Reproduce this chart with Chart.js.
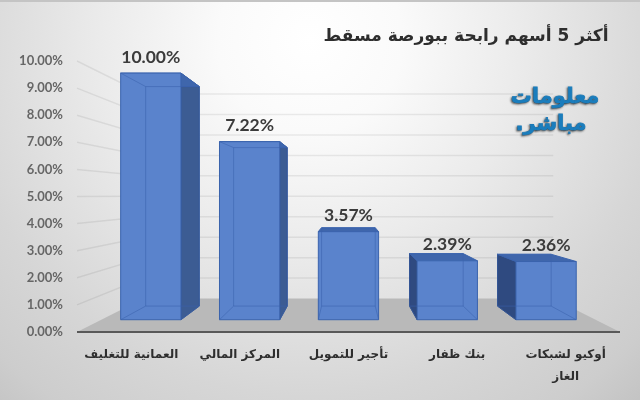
<!DOCTYPE html>
<html>
<head>
<meta charset="utf-8">
<script src="https://cdn.jsdelivr.net/npm/chart.js@4"></script>
<style>
html, body { margin: 0; padding: 0; }
body { width: 640px; height: 400px; overflow: hidden; }
#wrap {
    width: 640px; height: 400px; position: relative;
    background:
        linear-gradient(#c4c4c4, #c4c4c4) top / 100% 2px no-repeat,
        radial-gradient(circle 420px at 310px 40px, #ffffff 0%, #fafafa 22%, #ebebeb 50%, #d6d6d6 85%, #cdcdcd 105%, #b8b8b8 130%);
}
</style>
</head>
<body>
<div id="wrap"><canvas id="myChart" width="640" height="400"></canvas></div>
<script>
var categories = ["العمانية للتغليف", "المركز المالي", "تأجير للتمويل", "بنك ظفار", ["أوكيو لشبكات", "الغاز"]];
var values = [10.00, 7.22, 3.57, 2.39, 2.36];
var tickValues = [0, 1, 2, 3, 4, 5, 6, 7, 8, 9, 10];
var title = "أكثر 5 أسهم رابحة ببورصة مسقط";
var logoLines = ["معلومات", "مباشر."];

// perspective of the excel 3d chart
var vx = 348, vy = 195.6;
var kWall = 0.7546, kFront = 0.91, kBack = 0.81;

function px(x, k) { return vx + k * (x - vx); }
function py(y, k) { return vy + k * (y - vy); }

function poly(ctx, pts, fill, stroke) {
    ctx.beginPath();
    ctx.moveTo(pts[0][0], pts[0][1]);
    for (var i = 1; i < pts.length; i++) ctx.lineTo(pts[i][0], pts[i][1]);
    ctx.closePath();
    if (fill) { ctx.fillStyle = fill; ctx.fill(); }
    if (stroke) { ctx.strokeStyle = stroke; ctx.lineWidth = 1; ctx.stroke(); }
}

var walls = {
    id: "walls",
    beforeDatasetsDraw: function (chart) {
        var ctx = chart.ctx, a = chart.chartArea, y = chart.scales.y;
        ctx.save();
        // vloer
        poly(ctx, [[a.left, a.bottom], [a.right, a.bottom], [px(a.right, kWall), py(a.bottom, kWall)], [px(a.left, kWall), py(a.bottom, kWall)]], "#b9b9b9");
        // grid lines, side wall and back wall
        tickValues.forEach(function (t) {
            if (t === 0) return;
            var yy = y.getPixelForValue(t);
            ctx.beginPath();
            ctx.moveTo(a.left, yy);
            ctx.lineTo(px(a.left, kWall), py(yy, kWall));
            ctx.lineTo(px(a.right, kWall), py(yy, kWall));
            ctx.strokeStyle = "rgba(0,0,0,0.07)";
            ctx.lineWidth = 1.5;
            ctx.stroke();
        });
        // voorrand
        ctx.beginPath();
        ctx.moveTo(a.left, a.bottom);
        ctx.lineTo(a.right, a.bottom);
        ctx.strokeStyle = "#595959";
        ctx.lineWidth = 2;
        ctx.stroke();
        ctx.restore();
    },
    beforeDatasetDraw: function (chart) {
        var ctx = chart.ctx;
        chart.getDatasetMeta(0).data.forEach(function (bar) {
            var l = bar.x - bar.width / 2, r = bar.x + bar.width / 2, t = bar.y, b = bar.base;
            var edge = "#3a63ad";
            // zijkant
            if (r < vx) {
                poly(ctx, [[px(r, kFront), py(t, kFront)], [px(r, kBack), py(t, kBack)], [px(r, kBack), py(b, kBack)], [px(r, kFront), py(b, kFront)]], "#3c5c93", "#35558f");
            } else if (l > vx) {
                poly(ctx, [[px(l, kFront), py(t, kFront)], [px(l, kBack), py(t, kBack)], [px(l, kBack), py(b, kBack)], [px(l, kFront), py(b, kFront)]], "#2f4a80", "#2b4577");
            }
            // bovenkant
            poly(ctx, [[px(l, kFront), py(t, kFront)], [px(r, kFront), py(t, kFront)], [px(r, kBack), py(t, kBack)], [px(l, kBack), py(t, kBack)]], "#3f66ac", edge);
            // voorkant
            poly(ctx, [[px(l, kFront), py(t, kFront)], [px(r, kFront), py(t, kFront)], [px(r, kFront), py(b, kFront)], [px(l, kFront), py(b, kFront)]], "#5a83cc", edge);
            // achterkant, shines through
            poly(ctx, [[px(l, kBack), py(t, kBack)], [px(r, kBack), py(t, kBack)], [px(r, kBack), py(b, kBack)], [px(l, kBack), py(b, kBack)]], null, "rgba(58,99,173,0.55)");
            ctx.beginPath();
            ctx.moveTo(px(l, kFront), py(t, kFront)); ctx.lineTo(px(l, kBack), py(t, kBack));
            ctx.moveTo(px(l, kFront), py(b, kFront)); ctx.lineTo(px(l, kBack), py(b, kBack));
            ctx.moveTo(px(r, kFront), py(b, kFront)); ctx.lineTo(px(r, kBack), py(b, kBack));
            ctx.strokeStyle = "rgba(58,99,173,0.55)";
            ctx.stroke();
        });
        return false;
    },
    afterDraw: function (chart) {
        var ctx = chart.ctx;
        ctx.save();
        // value labels
        ctx.font = "bold 17.5px Lato";
        ctx.fillStyle = "#3b3b3b";
        ctx.textAlign = "center";
        ctx.textBaseline = "middle";
        chart.getDatasetMeta(0).data.forEach(function (bar, i) {
            ctx.fillText(values[i].toFixed(2) + "%", px(bar.x, kFront), py(bar.y, kFront) - 16);
        });
        // titel
        ctx.direction = "rtl";
        ctx.textAlign = "center";
        ctx.font = "bold 17px 'DejaVu Sans', 'Liberation Sans'";
        ctx.fillStyle = "#2e2e2e";
        ctx.fillText(title, 466, 37);
        // logo
        ctx.shadowColor = "rgba(60,60,60,0.7)";
        ctx.shadowBlur = 2;
        ctx.shadowOffsetX = -1;
        ctx.shadowOffsetY = 1;
        ctx.fillStyle = "#1a7dbd";
        ctx.strokeStyle = "#1a7dbd";
        ctx.lineWidth = 0.8;
        ctx.font = "bold 21px 'DejaVu Sans'";
        ctx.strokeText(logoLines[0], 555, 98);
        ctx.fillText(logoLines[0], 555, 98);
        ctx.strokeText(logoLines[1], 551, 125);
        ctx.fillText(logoLines[1], 551, 125);
        ctx.restore();
    }
};

var ctx = document.getElementById("myChart");
var myChart = new Chart(ctx, {
    type: "bar",
    data: {
        labels: categories,
        datasets: [{
            data: values,
            backgroundColor: "#4472c4",
            categoryPercentage: 1,
            barPercentage: 0.61
        }]
    },
    plugins: [walls],
    options: {
        responsive: false,
        animation: false,
        layout: { padding: { right: 20, top: 61, left: 0, bottom: 0 } },
        plugins: { legend: { display: false }, tooltip: { enabled: false } },
        scales: {
            x: {
                grid: { display: false },
                border: { display: false },
                ticks: {
                    maxRotation: 0, minRotation: 0, padding: 4,
                    color: "#2e2e2e",
                    font: { family: "'DejaVu Sans'", size: 12, weight: "bold", lineHeight: 1.8 }
                },
                afterFit: function (s) { s.height = 68; }
            },
            y: {
                min: 0, max: 10,
                grid: { display: false },
                border: { display: false },
                ticks: {
                    stepSize: 1, padding: 6,
                    color: "#666666",
                    font: { family: "Lato", size: 13, weight: "bold" },
                    callback: function (v) { return v.toFixed(2) + "%"; }
                },
                afterFit: function (s) { s.width = 77; }
            }
        }
    }
});
</script>
</body>
</html>
